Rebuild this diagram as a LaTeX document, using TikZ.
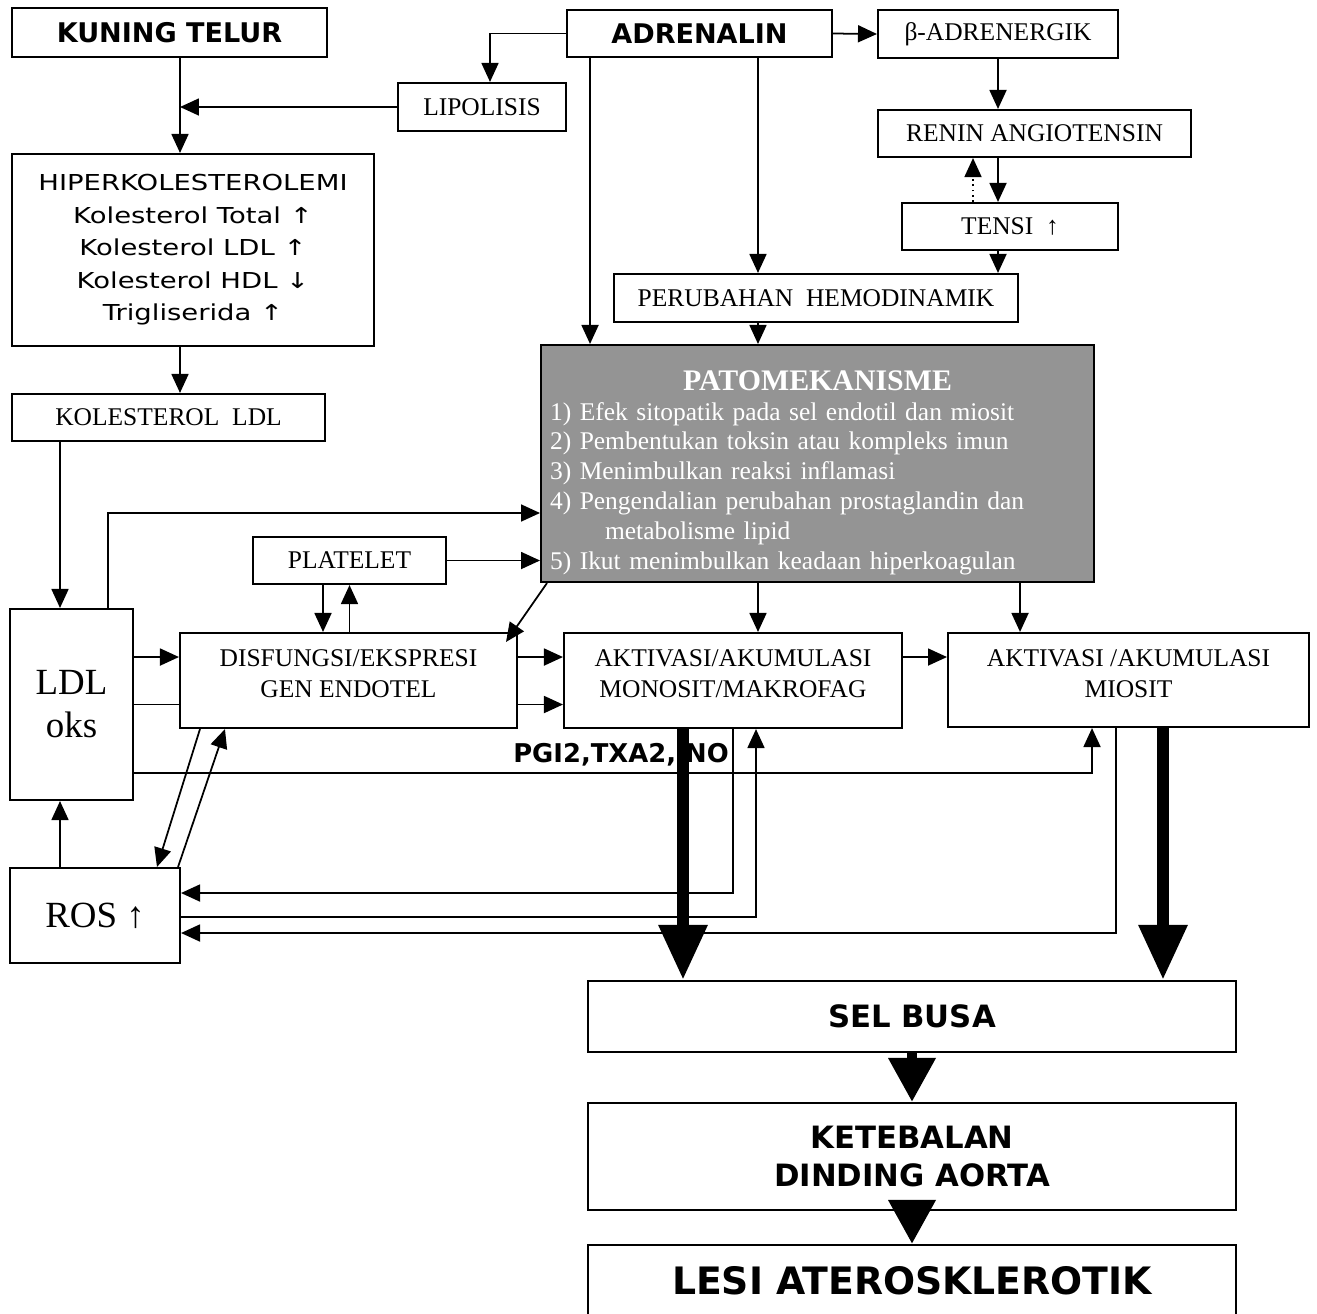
\documentclass[tikz,border=0pt]{standalone}
\usepackage{fontspec}
\setmainfont{Liberation Serif}
\newfontfamily\verd{DejaVu Sans}
\newfontfamily\verdlebar[FakeStretch=1.25]{DejaVu Sans}
\usetikzlibrary{arrows.meta}

\tikzset{
  kotak/.style={draw, line width=1.2pt, fill=white, inner sep=2pt, align=center,
    font=\fontsize{14.5}{17.6}\selectfont},
  judul/.style={kotak, font=\verd\bfseries\fontsize{15.4}{18}\selectfont},
  panah/.style={-{Triangle[length=0.38cm,width=0.34cm]}, line width=1pt},
  tebal/.style={-{Triangle[length=1.1cm,width=0.92cm]}, line width=0.24cm},
  segitiga/.style={-{Triangle[length=0.88cm,width=0.9cm]}, line width=0.2cm},
}
\newcommand{\turun}{\rule[-0.26cm]{0pt}{0.1pt}}

\begin{document}
\begin{tikzpicture}[x=0.02cm, y=-0.02cm]
    \useasboundingbox (0,0) rectangle (1317,1313);

    % kolom kiri
    \node[judul, minimum width=6.3cm, minimum height=0.98cm] (kt) at (169.5,32.5) {KUNING TELUR};
    \node[kotak, minimum width=7.24cm, minimum height=3.84cm,
      font=\verdlebar\fontsize{12.5}{18.5}\selectfont] (hiper) at (193,250)
      {HIPERKOLESTEROLEMI\\Kolesterol Total ↑\\Kolesterol LDL ↑\\Kolesterol HDL ↓\\Trigliserida ↑};
    \node[kotak, minimum width=6.26cm, minimum height=0.94cm] (koldl) at (168.5,417.5) {KOLESTEROL\ \ LDL};
    \node[kotak, minimum width=2.46cm, minimum height=3.82cm,
      font=\fontsize{21}{24.5}\selectfont] (ldl) at (71.5,704.5) {LDL\\oks};
    \node[kotak, minimum width=3.4cm, minimum height=1.9cm,
      font=\fontsize{21}{24}\selectfont] (ros) at (95,915.5) {ROS ↑};

    % kolom atas
    \node[judul, minimum width=5.3cm, minimum height=0.94cm] (adr) at (699.5,33.5) {ADRENALIN};
    \node[kotak, minimum width=4.8cm, minimum height=0.96cm] (beta) at (998,34) {β-ADRENERGIK};
    \node[kotak, minimum width=3.36cm, minimum height=0.96cm] (lipo) at (482,107) {LIPOLISIS};
    \node[kotak, minimum width=6.26cm, minimum height=0.94cm] (renin) at (1034.5,133.5) {RENIN ANGIOTENSIN};
    \node[kotak, minimum width=4.32cm, minimum height=0.94cm] (tensi) at (1010,226.5) {TENSI\ \ ↑};
    \node[kotak, minimum width=8.08cm, minimum height=0.96cm] (hemo) at (816,298) {PERUBAHAN\ \ HEMODINAMIK};

    \node[kotak, fill=black!42, text=white, minimum width=11.06cm, minimum height=4.74cm,
      text width=10.7cm, align=left, font=\fontsize{14.5}{17}\selectfont] (pato) at (817.5,463.5)
      {\rule{0pt}{0.76cm}\hfill{\fontsize{17}{20}\selectfont\bfseries PATOMEKANISME}\hfill\null\\
       1) Efek sitopatik pada sel endotil dan miosit\\
       2) Pembentukan toksin atau kompleks imun\\
       3) Menimbulkan reaksi inflamasi\\
       4) Pengendalian perubahan prostaglandin dan\\
       \hspace*{1.1cm}metabolisme lipid\\
       5) Ikut menimbulkan keadaan hiperkoagulan};

    % tengah
    \node[kotak, minimum width=3.86cm, minimum height=0.94cm] (plat) at (349.5,560.5) {PLATELET};
    \node[kotak, minimum width=6.74cm, minimum height=1.9cm] (disf) at (348.5,680.5) {DISFUNGSI/EKSPRESI\\GEN ENDOTEL\turun};
    \node[kotak, minimum width=6.76cm, minimum height=1.9cm] (mono) at (733,680.5) {AKTIVASI/AKUMULASI\\MONOSIT/MAKROFAG\turun};
    \node[kotak, minimum width=7.22cm, minimum height=1.88cm] (mio) at (1128.5,680) {AKTIVASI /AKUMULASI\\MIOSIT\turun};
    \node[font=\verd\bfseries\fontsize{14.7}{16}\selectfont] (pgi) at (621,755) {PGI2,TXA2, NO};

    % bawah
    \node[judul, minimum width=12.96cm, minimum height=1.42cm,
      font=\verd\bfseries\fontsize{17.5}{21}\selectfont] (sel) at (912,1016.5) {SEL BUSA};
    \node[judul, minimum width=12.96cm, minimum height=2.14cm,
      font=\verd\bfseries\fontsize{17.5}{22}\selectfont] (ket) at (912,1156.5) {KETEBALAN\\DINDING AORTA};
    \node[judul, minimum width=12.96cm, minimum height=1.42cm,
      font=\verd\bfseries\fontsize{21.5}{25}\selectfont] (lesi) at (912,1280.5) {LESI ATEROSKLEROTIK};

    % titik bantu
    \coordinate (kx) at ([xshift=0.21cm]kt.south);
    \coordinate (ax) at ([xshift=1.17cm]adr.south);
    \coordinate (ax2) at ([xshift=-2.19cm]adr.south);
    \coordinate (tx) at ([xshift=-0.5cm]beta.south);
    \coordinate (lx) at ([xshift=-0.23cm]ldl.north);
    \coordinate (px) at ([xshift=-0.53cm]plat.south);
    \coordinate (mx) at ([xshift=-2.17cm]mio.north);
    \coordinate (ly1) at ([yshift=0.95cm]ldl.east);
    \coordinate (ly2) at ([yshift=-1.37cm]ldl.east);

    \draw[panah] (kx) -- (kx |- hiper.north);
    \draw[panah] (lipo.west) -- (lipo.west -| kx);
    \draw[panah] (adr.west) -| ([xshift=0.16cm]lipo.north);
    \draw[panah] (adr.east) -- (beta.west);
    \draw[panah] (beta.south) -- (beta.south |- renin.north);
    \draw[panah] (beta.south |- renin.south) -- (beta.south |- tensi.north);
    \draw[panah, dotted] (tx |- tensi.north) -- (tx |- renin.south);
    \draw[panah] (beta.south |- tensi.south) -- (beta.south |- hemo.north);
    \draw[panah] (ax) -- (ax |- hemo.north);
    \draw[panah] (ax2) -- (ax2 |- pato.north);
    \draw[panah] (ax |- hemo.south) -- (ax |- pato.north);
    \draw[panah] (kx |- hiper.south) -- (kx |- koldl.north);
    \draw[panah] (lx |- koldl.south) -- (lx);

    \draw[panah] ([xshift=0.73cm]ldl.north) |- ([yshift=-0.99cm]pato.west);
    \draw[panah] (plat.east) -- (plat.east -| pato.west);
    \draw[panah] (px) -- (px |- disf.north);
    \draw[panah] (plat.south |- disf.north) -- (plat.south);
    \draw[panah] ([xshift=0.14cm]pato.south west) -- ([xshift=-0.24cm,yshift=-0.2cm]disf.north east);
    \draw[panah] (ly1) -- (ly1 -| disf.west);
    \draw (ldl.east) -- (ldl.east -| disf.west);
    \draw[panah] (ly1 -| disf.east) -- (ly1 -| mono.west);
    \draw[panah] (ldl.east -| disf.east) -- (ldl.east -| mono.west);
    \draw[panah] (ly1 -| mono.east) -- (ly1 -| mio.west);
    \draw[panah] (ly2) -| ([xshift=-0.73cm]mio.south);
    \draw[panah] (ax |- pato.south) -- (ax |- mono.north);
    \draw[panah] (mx |- pato.south) -- (mx);

    \draw[panah] ([xshift=0.42cm]disf.south west) -- ([xshift=1.24cm]ros.north);
    \draw[panah] ([xshift=-0.06cm]ros.north east) -- ([xshift=0.92cm]disf.south west);
    \draw[panah] (lx |- ros.north) -- (lx |- ldl.south);
    \draw[panah] (mono.south) |- ([yshift=0.45cm]ros.east);
    \draw[panah] ([yshift=-0.03cm]ros.east) -| ([xshift=0.46cm]mono.south);
    \draw[panah] ([xshift=-0.25cm]mio.south) |- ([yshift=-0.35cm]ros.east);

    \draw[tebal] ([xshift=-1cm]mono.south) -- ([xshift=-1cm]mono.south |- sel.north);
    \draw[tebal] ([xshift=0.69cm]mio.south) -- ([xshift=0.69cm]mio.south |- sel.north);
    \draw[segitiga] (sel.south) -- (ket.north);
    \draw[segitiga] (ket.south) -- (lesi.north);
\end{tikzpicture}
\end{document}
